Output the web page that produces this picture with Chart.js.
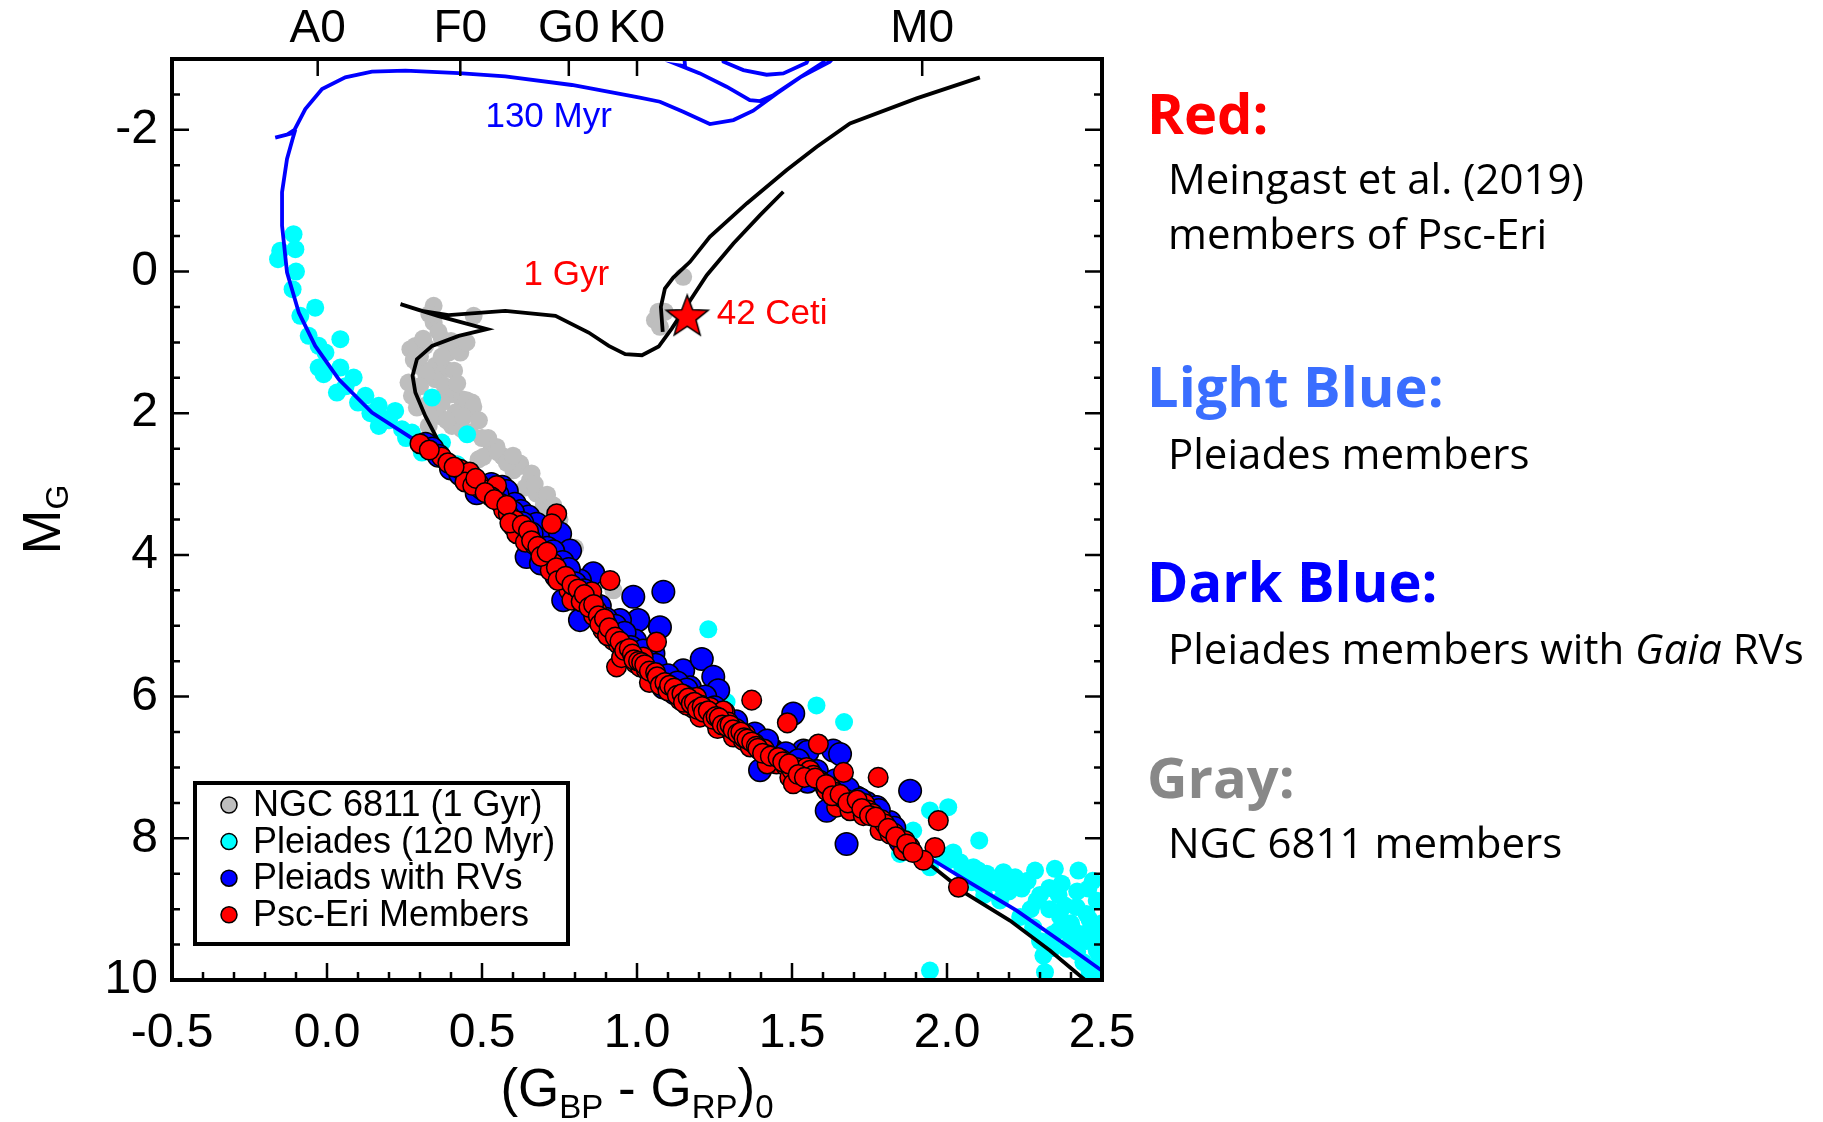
<!DOCTYPE html>
<html lang="en">
<head>
<meta charset="UTF-8">
<title>Psc-Eri colour-magnitude diagram</title>
<script src="https://cdn.jsdelivr.net/npm/chart.js"></script>
<style>
  html, body { margin: 0; padding: 0; background: #fff; }
  #wrap { position: relative; width: 1823px; height: 1122px; overflow: hidden; }
  #cmd { position: absolute; left: 0; top: 0; }
  .note { position: absolute; font-family: "Open Sans", sans-serif; line-height: 1; white-space: nowrap; color: #000; }
  .head { font-weight: bold; font-size: 56px; left: 1147px; }
  .body { font-size: 42px; left: 1168px; }
</style>
</head>
<body>
<div id="wrap">
  <canvas id="cmd" width="1823" height="1122"></canvas>

  <div class="note head" style="top:84px;color:#ff0000">Red:</div>
  <div class="note body" style="top:157px">Meingast et al. (2019)</div>
  <div class="note body" style="top:212px">members of Psc-Eri</div>

  <div class="note head" style="top:357px;color:#3a6eff">Light Blue:</div>
  <div class="note body" style="top:432px">Pleiades members</div>

  <div class="note head" style="top:552px;color:#0000ff">Dark Blue:</div>
  <div class="note body" style="top:627px">Pleiades members with <i>Gaia</i> RVs</div>

  <div class="note head" style="top:748px;color:#888888">Gray:</div>
  <div class="note body" style="top:821px">NGC 6811 members</div>
</div>

<script>
// axes
const xTickValues = [-0.5, 0.0, 0.5, 1.0, 1.5, 2.0, 2.5];
const yTickValues = [-2, 0, 2, 4, 6, 8, 10];
const spectralLabels = ['A0', 'F0', 'G0', 'K0', 'M0'];
const spectralColors = [-0.03, 0.43, 0.78, 1.0, 1.92];

// NGC 6811 members (gray)
const ngc6811 = [
  [0.344,0.484],[0.344,0.719],[0.473,0.625],[0.269,1.096],[0.317,1.049],[0.285,1.05],[0.371,0.955],
  [0.392,1.143],[0.43,1.143],[0.296,1.331],[0.349,1.331],[0.382,1.378],[0.263,1.567],[0.349,1.52],
  [0.274,1.755],[0.403,1.732],[0.435,1.802],[0.468,1.849],[0.317,1.896],[0.414,1.991],[0.36,2.038],
  [0.328,2.179],[0.403,2.179],[0.435,2.226],[0.462,2.273],[0.532,2.485],[0.565,2.603],[0.489,2.65],
  [0.624,2.744],[0.343,2.004],[0.45,1.816],[0.472,1.91],[0.386,2.10],[0.547,2.475],[0.569,2.616],
  [0.623,2.71],[0.504,2.616],[0.655,2.946],[0.676,3.134],[0.698,3.323],[0.601,2.805],[0.737,3.41],
  [0.70,3.25],[0.64,3.05],[0.76,3.70],[0.80,3.90],[0.924,4.50],[0.881,4.358],[0.52,2.35],[0.30,1.20],
  [0.33,0.60],[0.36,0.85],[0.31,0.95],[0.40,0.98],[0.45,1.00],[0.28,1.25],[0.32,1.45],[0.37,1.20],
  [0.41,1.40],[0.30,1.62],[0.38,1.62],[0.42,1.58],[0.29,1.92],[0.37,1.85],[0.44,2.05],[0.49,2.10],
  [0.50,2.35],[0.55,2.55],[0.58,2.70],[0.60,2.60],[0.66,2.85],[0.67,3.00],[0.71,3.15],[0.73,3.30],
  [0.75,3.50],
  [1.149,0.075],[1.069,0.569],[1.058,0.687],[1.09,0.569],[1.074,0.781]
];

// Pleiades members (light blue)
const pleiades = [
  [-0.108,-0.528],[-0.102,-0.316],[-0.151,-0.293],[-0.158,-0.175],[-0.10,0.0],[-0.111,0.249],
  [-0.038,0.51],[-0.086,0.625],[-0.059,0.908],[0.043,0.955],[-0.027,1.049],[-0.005,1.143],
  [-0.027,1.355],[-0.011,1.449],[0.043,1.355],[0.086,1.496],[0.032,1.708],[0.124,1.755],
  [0.167,1.896],[0.22,1.967],[0.188,2.085],[0.242,2.226],[0.274,2.273],[0.339,1.779],[0.452,2.297],
  [0.371,2.414],[0.306,2.556],[0.167,2.18],[0.10,1.85],[0.06,1.62],[0.14,2.0],[0.20,2.10],[0.255,2.35],
  [0.36,2.55],[0.42,2.72],[0.50,3.02],[0.62,3.55],[0.80,4.48],[1.0,5.42],[1.20,6.15],[1.289,6.077],
  [1.23,5.05],[1.579,6.124],[1.668,6.359],[1.945,9.867],
  [1.891,7.89],[1.848,8.22],[1.945,7.607],[2.004,7.56],[2.104,8.03],[1.945,8.41],[2.004,8.313],
  [2.042,8.337],[2.085,8.408],[2.128,8.50],[2.182,8.478],[2.284,8.455],[2.348,8.43],[2.37,8.64],
  [2.424,8.455],[2.456,8.71],[2.241,8.71],[2.289,8.88],[2.365,9.11],[2.45,9.07],[2.483,8.88],
  [2.488,9.30],[2.408,9.30],[2.343,9.35],[2.311,9.655],[2.316,9.89],[2.472,9.914],[2.483,9.585],
  [2.386,9.56],[2.236,9.11],[2.171,8.878],[2.117,8.69],[2.063,8.596],[2.278,9.255],[2.418,8.97],
  [2.493,9.68],[2.20,8.75],[2.15,8.62],[2.33,9.0],[2.40,9.2],[2.45,9.45],[2.50,9.5],[2.50,9.2],
  [2.36,8.8],[2.26,8.6],[2.10,8.45],[1.99,8.25],[2.30,9.45],[2.44,9.75],[2.50,9.95],
  [2.47,8.60],[2.42,8.75],[2.38,8.95],[2.46,9.15],[2.44,9.35],[2.40,9.45],[2.36,9.30],[2.34,9.55],
  [2.48,9.40],[2.49,9.78],[2.46,9.88],[2.42,9.60],[2.33,8.70],[2.22,8.55],[2.30,8.80],[2.27,9.00],
  [2.18,8.70],[2.05,8.45],[2.02,8.20],[2.08,8.62],[2.12,8.80]
];

// Pleiades members with Gaia RVs (dark blue)
const pleiadesRV = [
  [0.318,2.43],[0.34,2.50],[0.40,2.78],[0.483,3.13],[0.50,3.06],[0.565,3.04],[0.58,3.10],[0.606,3.28],
  [0.625,3.38],[0.65,3.46],[0.676,3.56],[0.70,3.78],[0.752,3.70],[0.784,3.94],[0.644,4.03],[0.69,4.12],
  [0.72,4.05],[0.74,4.30],[0.859,4.26],[0.816,4.36],[0.762,4.64],[0.988,4.59],[1.085,4.52],[1.004,4.92],
  [1.074,5.02],[0.945,4.92],[0.88,4.72],[0.816,4.92],[0.924,5.11],[0.994,5.21],[1.053,5.39],[1.00,5.35],
  [1.149,5.63],[1.209,5.47],[1.246,5.72],[1.262,5.91],[1.171,5.87],[1.085,5.87],[1.12,5.95],[1.20,6.10],
  [1.30,6.45],[1.35,6.55],[1.418,6.71],[1.44,6.76],[1.461,6.81],[1.504,6.24],[1.537,6.76],[1.55,6.78],
  [1.633,6.76],[1.655,6.81],[1.397,7.04],[1.55,7.20],[1.612,7.28],[1.612,7.61],[1.708,7.42],[1.74,7.50],
  [1.773,7.56],[1.816,7.77],[1.881,7.33],[1.676,8.08],[1.85,8.05],
  [0.36,2.60],[0.43,2.86],[0.53,3.00],[0.55,3.15],[0.60,3.40],[0.63,3.55],[0.66,3.70],[0.71,3.90],
  [0.73,3.95],[0.76,4.10],[0.78,4.20],[0.80,4.40],[0.83,4.50],[0.85,4.60],[0.90,4.90],[0.93,5.00],
  [0.96,5.10],[0.98,5.30],[1.02,5.35],[1.04,5.50],[1.06,5.55],[1.10,5.70],[1.13,5.80],[1.16,5.90],
  [1.22,6.00],[1.25,6.15],[1.28,6.28],[1.32,6.35],[1.38,6.52],[1.42,6.62],[1.48,6.80],[1.52,6.90],
  [1.58,7.05],[1.64,7.18],[1.68,7.30],[1.72,7.45],[1.78,7.60],[1.83,7.85]
];

// Psc-Eri members (red)
const pscEri = [
  [0.30,2.43],[0.37,2.62],[0.43,2.79],[0.46,2.83],[0.445,2.97],[0.49,2.99],[0.47,3.02],[0.52,3.08],
  [0.547,3.02],[0.53,3.18],[0.56,3.27],[0.57,3.37],[0.585,3.42],[0.606,3.51],[0.60,3.60],[0.62,3.66],
  [0.612,3.70],[0.655,3.75],[0.64,3.82],[0.741,3.42],[0.725,3.56],[0.67,3.86],[0.687,3.94],[0.70,4.00],
  [0.715,4.06],[0.73,4.12],[0.72,4.22],[0.75,4.26],[0.76,4.33],[0.773,4.41],[0.78,4.50],[0.80,4.52],
  [0.816,4.59],[0.79,4.64],[0.913,4.36],[0.854,4.52],[0.835,4.68],[0.87,4.78],[0.86,4.86],[0.885,4.92],
  [0.902,4.97],[0.89,5.06],[0.915,5.10],[0.924,5.21],[0.94,5.26],[0.955,5.31],[0.934,5.58],[0.967,5.39],
  [0.98,5.45],[1.02,5.44],[1.063,5.23],[0.995,5.53],[1.01,5.58],[1.03,5.62],[1.053,5.68],[1.045,5.75],
  [1.07,5.77],[1.085,5.83],[1.096,5.87],[1.11,5.90],[1.125,5.95],[1.139,6.05],[1.155,5.98],[1.17,6.05],
  [1.192,6.01],[1.205,6.12],[1.18,6.16],[1.22,6.16],[1.236,6.15],[1.203,6.29],[1.25,6.25],[1.268,6.38],
  [1.284,6.22],[1.278,6.20],[1.295,6.36],[1.311,6.57],[1.32,6.45],[1.343,6.62],[1.35,6.53],[1.37,6.05],
  [1.365,6.71],[1.38,6.66],[1.397,6.76],[1.41,6.74],[1.42,6.82],[1.44,6.90],[1.45,6.95],[1.485,6.37],
  [1.465,6.88],[1.48,6.98],[1.493,7.14],[1.50,7.04],[1.515,7.00],[1.53,7.07],[1.547,7.00],[1.558,7.04],
  [1.569,7.11],[1.585,6.67],[1.59,7.18],[1.60,7.22],[1.612,7.33],[1.625,7.28],[1.644,7.56],[1.64,7.35],
  [1.66,7.42],[1.666,7.07],[1.675,7.45],[1.687,7.61],[1.70,7.48],[1.72,7.53],[1.735,7.51],[1.73,7.68],
  [1.745,7.60],[1.76,7.65],[1.778,7.14],[1.784,7.89],[1.79,7.74],[1.80,7.80],[1.816,7.94],[1.83,7.93],
  [1.845,8.00],[1.859,8.17],[1.864,8.03],[1.88,8.12],[1.972,7.75],[1.961,8.13],[1.924,8.31],[2.037,8.69],
  [1.504,7.23],[1.04,5.80],[1.16,6.12],[1.26,6.45],[1.42,6.95],[0.95,5.45],
  [0.33,2.52],[0.39,2.70],[0.41,2.76],[0.48,2.92],[0.51,3.12],[0.54,3.22],[0.58,3.30],[0.59,3.55],
  [0.63,3.58],[0.65,3.66],[0.66,3.80],[0.68,3.88],[0.69,4.02],[0.71,3.96],[0.74,4.18],[0.745,4.36],
  [0.77,4.30],[0.79,4.42],[0.81,4.48],[0.82,4.66],[0.83,4.56],[0.845,4.74],[0.86,4.70],[0.875,4.86],
  [0.88,4.98],[0.895,4.90],[0.905,5.14],[0.91,5.03],[0.93,5.16],[0.945,5.22],[0.96,5.35],[0.975,5.32],
  [0.985,5.40],[0.99,5.48],[1.005,5.50],[1.015,5.52],[1.025,5.55],[1.04,5.64],[1.06,5.66],[1.065,5.72],
  [1.075,5.84],[1.09,5.80],[1.10,5.92],[1.105,5.84],[1.12,5.88],[1.13,5.98],[1.145,5.96],[1.15,6.08],
  [1.165,6.02],[1.175,6.10],[1.185,6.08],[1.195,6.18],[1.21,6.14],[1.215,6.22],[1.23,6.20],[1.245,6.32],
  [1.255,6.28],[1.265,6.30],[1.275,6.40],[1.29,6.42],[1.30,6.40],[1.31,6.47],[1.325,6.52],[1.335,6.50],
  [1.345,6.58],[1.355,6.60],[1.37,6.64],[1.385,6.70],[1.39,6.73],[1.405,6.80],[1.43,6.84],[1.455,6.86],
  [1.47,6.92],[1.49,6.95],[1.52,7.10],[1.54,7.14],[1.575,7.15],[1.61,7.24],[1.63,7.40],[1.655,7.38],
  [1.68,7.50],[1.71,7.46],[1.725,7.58],[1.75,7.68],[1.77,7.70],[1.81,7.86],[1.835,7.98],[1.87,8.08],
  [1.89,8.20]
];

// 130 Myr isochrone (blue); points beyond the top edge are clipped
const iso130Myr = [
  [2.56,10.1],[2.499,9.867],[2.386,9.514],[2.225,9.02],[2.063,8.596],[1.956,8.31],[1.85,7.98],[1.75,7.65],
  [1.65,7.37],[1.55,7.10],[1.45,6.86],[1.35,6.60],[1.25,6.32],[1.15,6.02],[1.05,5.70],[0.95,5.30],
  [0.85,4.82],[0.75,4.30],[0.65,3.80],[0.55,3.30],[0.45,2.92],[0.397,2.76],[0.296,2.414],[0.145,1.99],
  [0.038,1.52],[-0.038,1.05],[-0.091,0.58],[-0.129,0.013],[-0.145,-0.646],[-0.145,-1.12],[-0.129,-1.59],
  [-0.111,-1.87],[-0.105,-1.96],[-0.167,-1.89],[-0.13,-1.93],[-0.105,-2.00],[-0.07,-2.294],[-0.016,-2.576],
  [0.059,-2.741],[0.145,-2.821],[0.253,-2.835],[0.425,-2.80],[0.575,-2.755],[0.79,-2.633],[1.005,-2.459],
  [1.074,-2.397],[1.149,-2.256],[1.235,-2.082],[1.311,-2.138],[1.375,-2.27],[1.451,-2.515],[1.526,-2.741],
  [1.622,-2.962],[1.66,-3.15],[1.15,-3.15],[1.155,-2.90],[1.138,-2.91],[1.203,-2.797],[1.289,-2.609],
  [1.364,-2.42],[1.397,-2.406],[1.44,-2.49],[1.526,-2.741],[1.60,-2.95],[1.62,-3.15],[1.27,-3.15],
  [1.279,-2.962],[1.343,-2.844],[1.418,-2.778],[1.472,-2.797],[1.547,-2.948],[1.57,-3.15]
];

// 1 Gyr isochrone (black): main sequence, turn-off, subgiant and red giant branch
const iso1Gyr = [
  [2.47,10.1],[2.445,9.999],[2.332,9.585],[2.203,9.161],[2.063,8.784],[1.956,8.408],[1.85,8.02],[1.75,7.68],
  [1.65,7.40],[1.55,7.12],[1.45,6.88],[1.35,6.62],[1.25,6.34],[1.15,6.04],[1.05,5.72],[0.95,5.32],
  [0.85,4.84],[0.75,4.32],[0.65,3.82],[0.55,3.32],[0.45,2.92],[0.40,2.65],[0.36,2.40],[0.317,2.038],
  [0.285,1.708],[0.276,1.473],[0.29,1.237],[0.339,1.049],[0.425,0.908],[0.516,0.814],[0.36,0.63],
  [0.237,0.46],[0.30,0.55],[0.392,0.616],[0.575,0.555],[0.737,0.625],[0.844,0.861],[0.909,1.049],
  [0.962,1.167],[1.016,1.181],[1.07,1.058],[1.112,0.805],[1.165,0.451],[1.225,0.051],[1.311,-0.396],
  [1.397,-0.796],[1.472,-1.126]
];
// 1 Gyr isochrone: helium burning / asymptotic giant branch
const iso1GyrAGB = [
  [1.083,0.852],[1.077,0.498],[1.09,0.24],[1.117,0.084],[1.171,-0.137],[1.235,-0.49],[1.354,-0.961],
  [1.483,-1.432],[1.58,-1.762],[1.687,-2.091],[1.902,-2.444],[2.106,-2.741]
];

const ceti42 = [[1.162, 0.644]];

const FAM = '"Liberation Sans", Arial, Helvetica, sans-serif';
Chart.defaults.font.family = FAM;
Chart.defaults.color = '#000';

const pts = a => a.map(p => ({ x: p[0], y: p[1] }));

function makeStar(R, fill) {
  const c = document.createElement('canvas');
  const size = Math.ceil(R * 2 + 4);
  c.width = size; c.height = size;
  const g = c.getContext('2d');
  const r = R * 0.42;
  g.beginPath();
  for (let i = 0; i < 10; i++) {
    const rad = i % 2 ? r : R;
    const a = -Math.PI / 2 + i * Math.PI / 5;
    g.lineTo(size / 2 + rad * Math.cos(a), size / 2 + rad * Math.sin(a));
  }
  g.closePath();
  g.fillStyle = fill; g.fill();
  g.lineWidth = 1.5; g.strokeStyle = '#000'; g.stroke();
  return c;
}

// text made of normal and subscript pieces: [text, size, yShift]
function drawRuns(g, runs, x, y) {
  let w = 0;
  runs.forEach(r => { g.font = r[1] + 'px ' + FAM; w += g.measureText(r[0]).width; });
  let cx = x - w / 2;
  g.textAlign = 'left';
  g.textBaseline = 'alphabetic';
  runs.forEach(r => {
    g.font = r[1] + 'px ' + FAM;
    g.fillText(r[0], cx, y + r[2]);
    cx += g.measureText(r[0]).width;
  });
}

const notes = [
  { text: '130 Myr', x: 0.511, y: -2.17, color: '#0000ff' },
  { text: '1 Gyr', x: 0.634, y: 0.05, color: '#ff0000' },
  { text: '42 Ceti', x: 1.257, y: 0.60, color: '#ff0000' }
];

const decor = {
  id: 'decor',
  afterDraw(chart) {
    const g = chart.ctx;
    const { left, right, top, bottom } = chart.chartArea;
    const xs = chart.scales.x, ys = chart.scales.y;
    g.save();

    // labels next to the isochrones and the star
    g.font = '35px ' + FAM;
    g.textAlign = 'left';
    g.textBaseline = 'middle';
    notes.forEach(n => {
      g.fillStyle = n.color;
      g.fillText(n.text, xs.getPixelForValue(n.x), ys.getPixelForValue(n.y));
    });

    // inward ticks
    g.strokeStyle = '#000';
    g.lineWidth = 2.5;
    g.beginPath();
    for (let i = 0; i <= 30; i++) {
      const v = -0.5 + i * 0.1;
      const px = xs.getPixelForValue(v);
      const len = i % 5 === 0 ? 17 : 8;
      g.moveTo(px, bottom); g.lineTo(px, bottom - len);
    }
    for (let i = 0; i <= 26; i++) {
      const v = -3 + i * 0.5;
      const py = ys.getPixelForValue(v);
      const len = (i % 4 === 2) ? 17 : 8;
      g.moveTo(left, py); g.lineTo(left + len, py);
      g.moveTo(right, py); g.lineTo(right - len, py);
    }
    spectralColors.forEach(v => {
      const px = xs.getPixelForValue(v);
      g.moveTo(px, top); g.lineTo(px, top + 17);
    });
    g.stroke();

    // frame
    g.lineWidth = 4;
    g.strokeRect(left, top, right - left, bottom - top);

    // legend box
    const ds = chart.data.datasets;
    const items = [ds[0], ds[1], ds[5], ds[6]];
    const bx = 195, by = 783, bw = 373, bh = 161;
    g.fillStyle = '#fff';
    g.fillRect(bx, by, bw, bh);
    g.lineWidth = 4;
    g.strokeRect(bx, by, bw, bh);
    g.font = '36px ' + FAM;
    g.textBaseline = 'middle';
    items.forEach((d, i) => {
      const cy = by + 22 + i * 36.6;
      g.beginPath();
      g.arc(229, cy, 8, 0, Math.PI * 2);
      g.fillStyle = d.backgroundColor;
      g.fill();
      g.lineWidth = 1.5;
      g.strokeStyle = '#000';
      g.stroke();
      g.fillStyle = '#000';
      g.fillText(d.label, 253, cy + 1);
    });

    // axis titles with subscripts
    g.fillStyle = '#000';
    drawRuns(g, [['(G', 53, 0], ['BP', 33, 12], [' - G', 53, 0], ['RP', 33, 12], [')', 53, 0], ['0', 33, 12]],
      (left + right) / 2, 1106);
    g.translate(60, (top + bottom) / 2);
    g.rotate(-Math.PI / 2);
    drawRuns(g, [['M', 54, 0], ['G', 32, 8]], 0, 0);
    g.restore();
  }
};

new Chart(document.getElementById('cmd'), {
  type: 'scatter',
  data: {
    datasets: [
      { label: 'NGC 6811 (1 Gyr)', data: pts(ngc6811), backgroundColor: '#bebebe', borderWidth: 0,
        pointRadius: 9, order: 7, clip: 0 },
      { label: 'Pleiades (120 Myr)', data: pts(pleiades), backgroundColor: '#00ffff', borderWidth: 0,
        pointRadius: 9, order: 6, clip: 0 },
      { label: '1 Gyr', data: pts(iso1Gyr), showLine: true, borderColor: '#000', borderWidth: 3.8,
        pointRadius: 0, order: 5, clip: 0 },
      { label: '1 Gyr AGB', data: pts(iso1GyrAGB), showLine: true, borderColor: '#000', borderWidth: 3.8,
        pointRadius: 0, order: 5, clip: 0 },
      { label: '130 Myr', data: pts(iso130Myr), showLine: true, borderColor: '#0000ff', borderWidth: 3.8,
        pointRadius: 0, order: 4, clip: 0 },
      { label: 'Pleiads with RVs', data: pts(pleiadesRV), backgroundColor: '#0000ff', borderColor: '#000',
        borderWidth: 1.5, pointRadius: 11.3, order: 2, clip: 0 },
      { label: 'Psc-Eri Members', data: pts(pscEri), backgroundColor: '#ff0000', borderColor: '#000',
        borderWidth: 1.5, pointRadius: 9.8, order: 1, clip: 0 },
      { label: '42 Ceti', data: pts(ceti42), pointStyle: makeStar(22, '#ff0000'), pointRadius: 22,
        order: 0, clip: 0 }
    ]
  },
  options: {
    responsive: false,
    animation: false,
    events: [],
    layout: { padding: { left: 0, right: 721, top: 0, bottom: 0 } },
    plugins: { legend: { display: false }, tooltip: { enabled: false } },
    scales: {
      x: {
        type: 'linear', position: 'bottom', min: -0.5, max: 2.5,
        grid: { display: false, drawTicks: false }, border: { display: false },
        afterBuildTicks: s => { s.ticks = xTickValues.map(v => ({ value: v })); },
        afterFit: s => { s.height = 142; },
        ticks: { font: { size: 48 }, padding: 25, maxRotation: 0, autoSkip: false,
          callback: v => v.toFixed(1) }
      },
      x2: {
        type: 'linear', position: 'top', min: -0.5, max: 2.5,
        grid: { display: false, drawTicks: false }, border: { display: false },
        afterBuildTicks: s => { s.ticks = spectralColors.map(v => ({ value: v })); },
        afterFit: s => { s.height = 59; },
        ticks: { font: { size: 46 }, padding: 2, maxRotation: 0, autoSkip: false,
          callback: (v, i) => spectralLabels[i] }
      },
      y: {
        type: 'linear', position: 'left', reverse: true, min: -3, max: 10,
        grid: { display: false, drawTicks: false }, border: { display: false },
        afterBuildTicks: s => { s.ticks = yTickValues.map(v => ({ value: v })); },
        afterFit: s => { s.width = 172; },
        ticks: { font: { size: 48 }, padding: 14, autoSkip: false, callback: v => String(v) }
      }
    }
  },
  plugins: [decor]
});
</script>
</body>
</html>
